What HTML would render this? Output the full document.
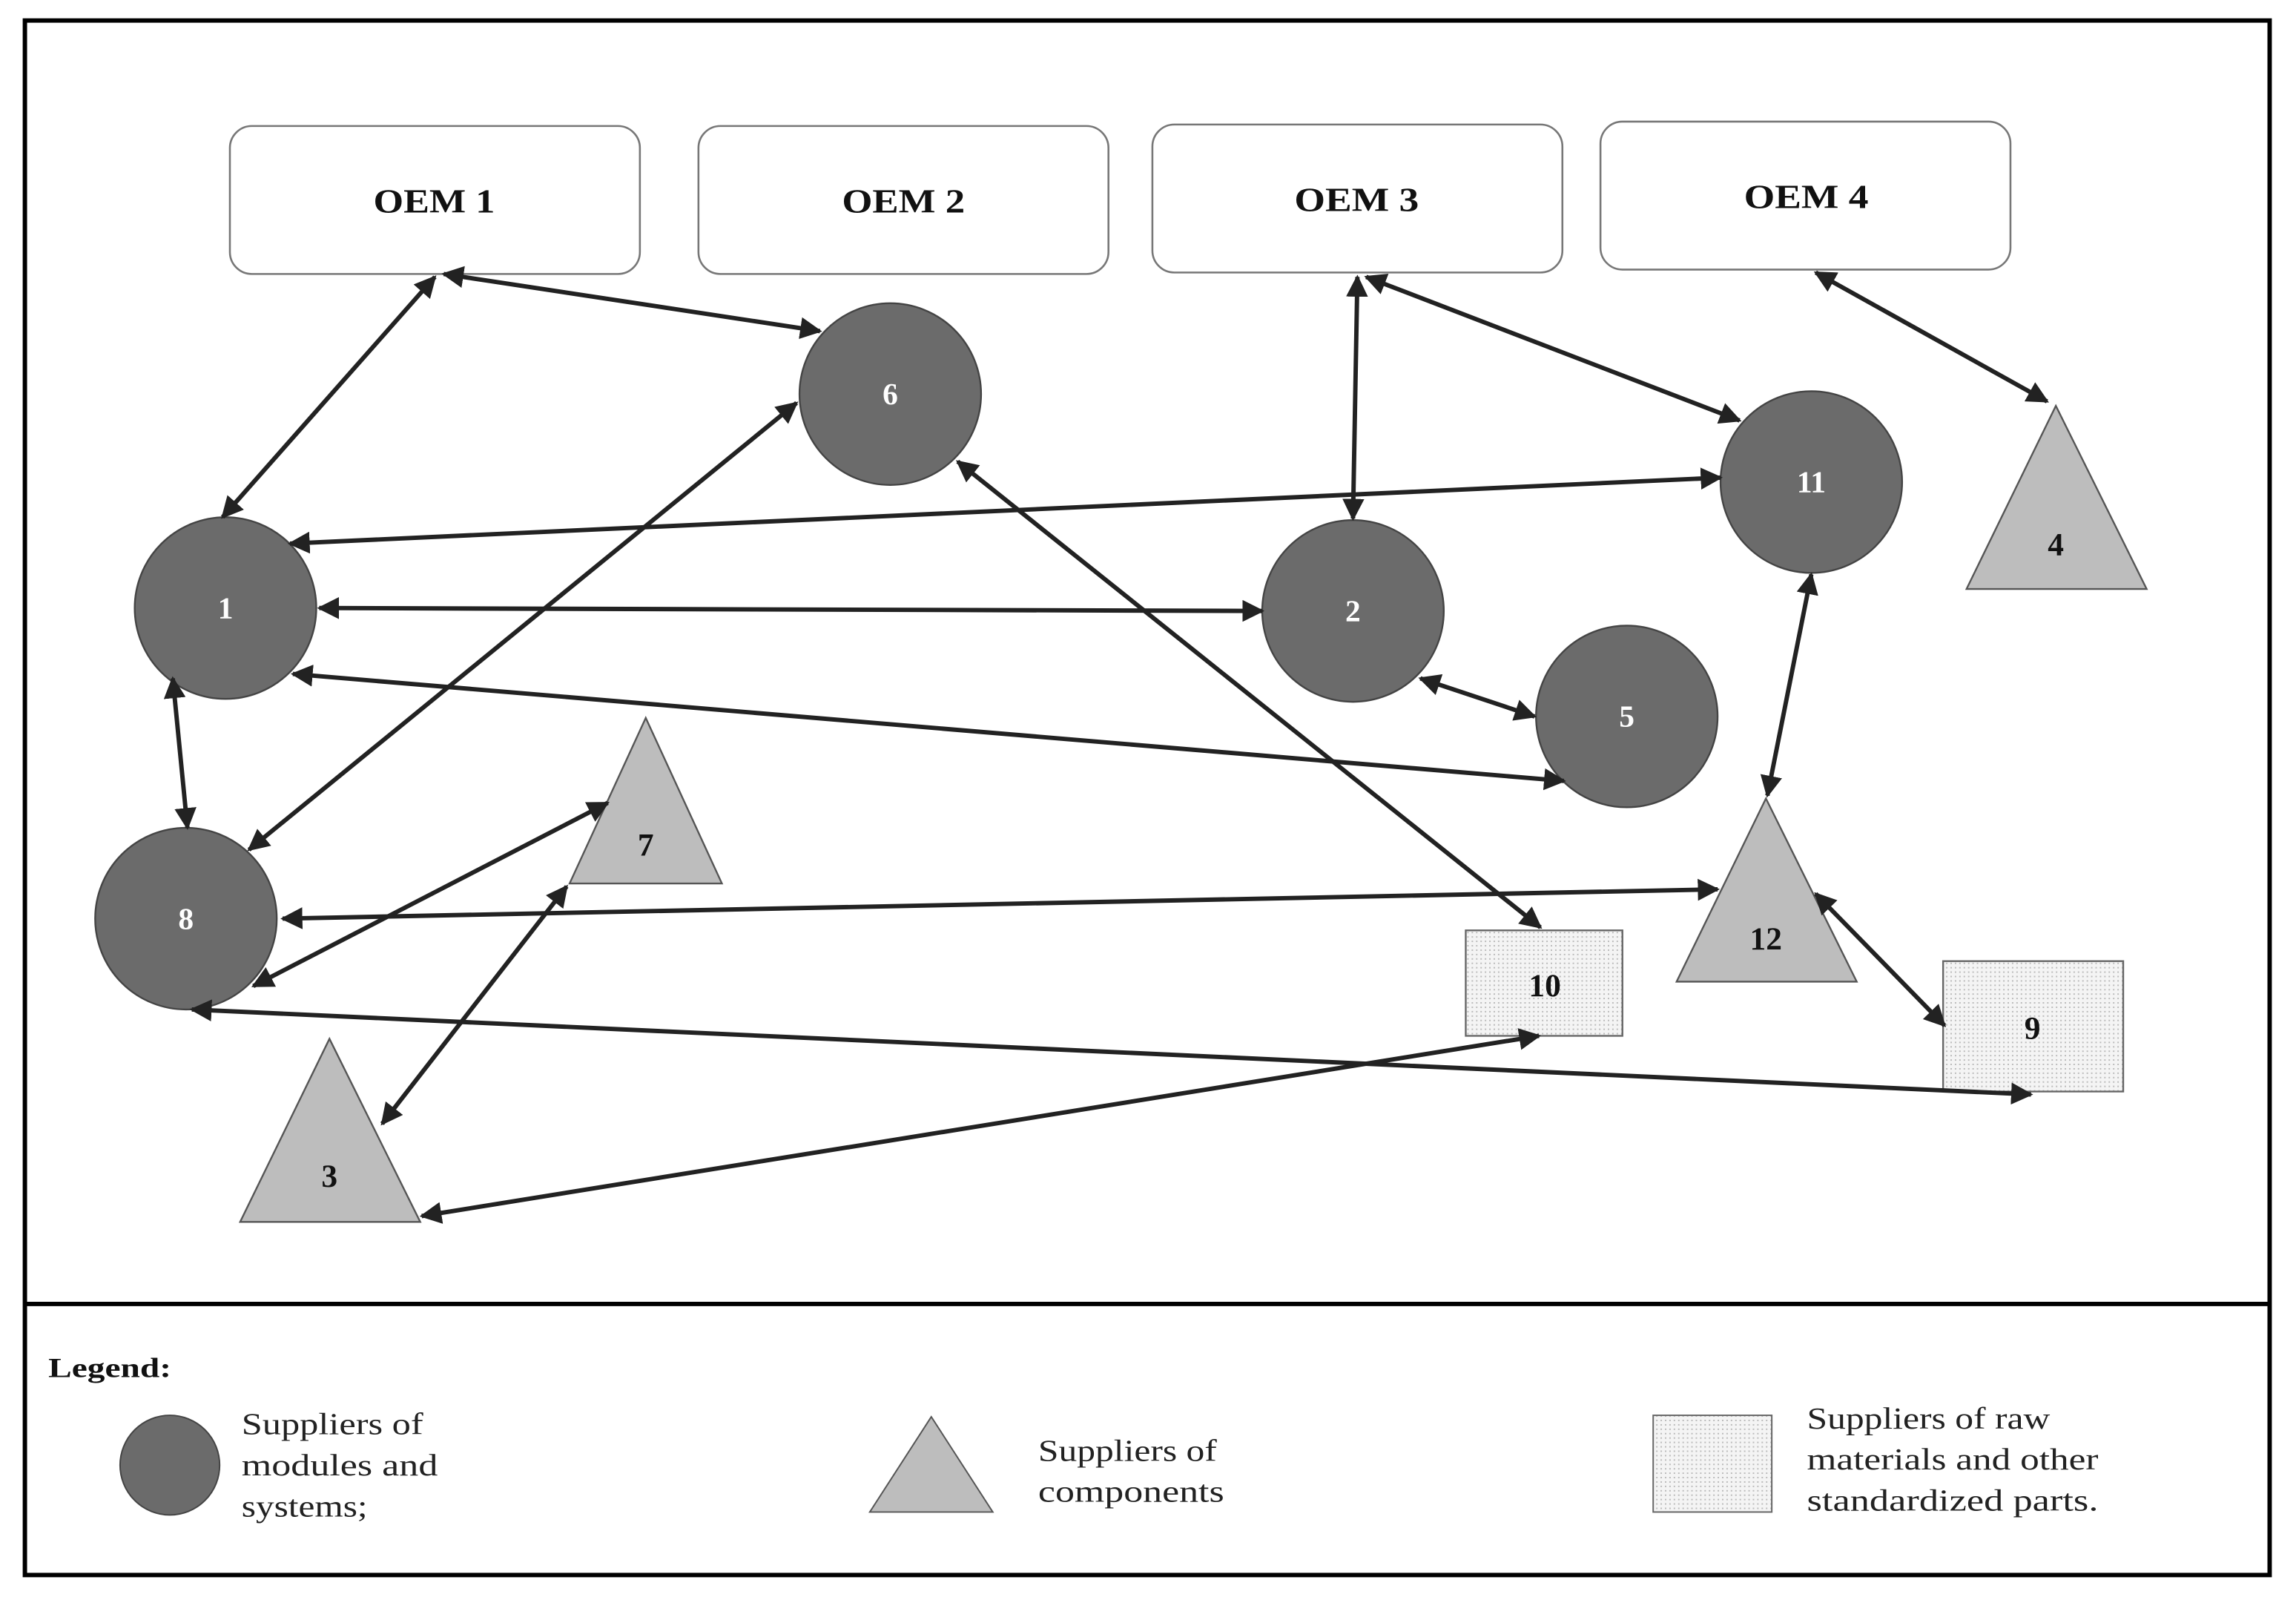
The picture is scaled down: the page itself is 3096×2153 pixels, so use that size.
<!DOCTYPE html>
<html><head><meta charset="utf-8"><style>
html,body{margin:0;padding:0;background:#fff;}
svg{display:block;}
text{font-family:"Liberation Serif",serif;}
</style></head><body>
<svg width="3096" height="2153" viewBox="0 0 1568 1090" preserveAspectRatio="none" xmlns="http://www.w3.org/2000/svg">
<defs>
<marker id="a" viewBox="0 0 10 10" refX="9" refY="5" markerWidth="5" markerHeight="5" orient="auto-start-reverse">
<path d="M0,0 L10,5 L0,10 z" fill="#222"/></marker>
<pattern id="dots" width="3" height="3" patternUnits="userSpaceOnUse"><rect width="3" height="3" fill="#f4f4f4"/><rect width="1" height="1" fill="#bbb"/></pattern>
</defs>
<rect x="17" y="14" width="1533" height="1061" fill="#fff" stroke="#000" stroke-width="3"/>
<line x1="17" y1="890" x2="1550" y2="890" stroke="#000" stroke-width="3"/>
<g fill="#fff" stroke="#777" stroke-width="1.3">
<rect x="157" y="86" width="280" height="101" rx="15"/>
<rect x="477" y="86" width="280" height="101" rx="15"/>
<rect x="787" y="85" width="280" height="101" rx="15"/>
<rect x="1093" y="83" width="280" height="101" rx="15"/>
</g>
<g font-size="23" font-weight="bold" fill="#111" lengthAdjust="spacingAndGlyphs">
<text x="255" y="145" textLength="83" lengthAdjust="spacingAndGlyphs">OEM 1</text>
<text x="575" y="145" textLength="84" lengthAdjust="spacingAndGlyphs">OEM 2</text>
<text x="884" y="144" textLength="85" lengthAdjust="spacingAndGlyphs">OEM 3</text>
<text x="1191" y="142" textLength="85" lengthAdjust="spacingAndGlyphs">OEM 4</text>
</g>
<g fill="#6b6b6b" stroke="#444" stroke-width="1.2">
<circle cx="608" cy="269" r="62"/><circle cx="154" cy="415" r="62"/>
<circle cx="924" cy="417" r="62"/><circle cx="1237" cy="329" r="62"/>
<circle cx="1111" cy="489" r="62"/><circle cx="127" cy="627" r="62"/>
</g>
<g fill="#bdbdbd" stroke="#555" stroke-width="1.2">
<polygon points="1404,277 1343,402 1466,402"/>
<polygon points="441,490 389,603 493,603"/>
<polygon points="1206,545 1145,670 1268,670"/>
<polygon points="225,709 164,834 287,834"/>
</g>
<g fill="url(#dots)" stroke="#666" stroke-width="1.2">
<rect x="1001" y="635" width="107" height="72"/>
<rect x="1327" y="656" width="123" height="89"/>
</g>
<g font-size="21" font-weight="bold" text-anchor="middle" fill="#fff">
<text x="608" y="276">6</text><text x="154" y="422">1</text><text x="924" y="424">2</text>
<text x="1237" y="336">11</text><text x="1111" y="496">5</text><text x="127" y="634">8</text>
</g>
<g font-size="22" font-weight="bold" text-anchor="middle" fill="#111">
<text x="1404" y="379">4</text><text x="441" y="584">7</text><text x="1206" y="648">12</text>
<text x="225" y="810">3</text><text x="1055" y="680">10</text><text x="1388" y="709">9</text>
</g>
<g stroke="#222" stroke-width="3" marker-start="url(#a)" marker-end="url(#a)">
<line x1="297" y1="189" x2="152" y2="353"/>
<line x1="303" y1="187" x2="560" y2="226"/>
<line x1="927" y1="189" x2="924" y2="354"/>
<line x1="933" y1="189" x2="1188" y2="287"/>
<line x1="1240" y1="186" x2="1398" y2="274"/>
<line x1="1175" y1="326" x2="198" y2="371"/>
<line x1="218" y1="415" x2="862" y2="417"/>
<line x1="970" y1="463" x2="1048" y2="489"/>
<line x1="200" y1="460" x2="1068" y2="533"/>
<line x1="118" y1="463" x2="128" y2="565"/>
<line x1="544" y1="275" x2="170" y2="580"/>
<line x1="654" y1="315" x2="1052" y2="633"/>
<line x1="1237" y1="392" x2="1207" y2="543"/>
<line x1="415" y1="548" x2="173" y2="673"/>
<line x1="193" y1="627" x2="1173" y2="607"/>
<line x1="387" y1="605" x2="261" y2="767"/>
<line x1="131" y1="689" x2="1387" y2="747"/>
<line x1="1240" y1="610" x2="1328" y2="700"/>
<line x1="288" y1="830" x2="1051" y2="707"/>
</g>
<text x="33" y="940" font-size="19" font-weight="bold" fill="#111" textLength="84" lengthAdjust="spacingAndGlyphs">Legend:</text>
<circle cx="116" cy="1000" r="34" fill="#6b6b6b" stroke="#444"/>
<polygon points="636,967 594,1032 678,1032" fill="#bdbdbd" stroke="#555"/>
<rect x="1129" y="966" width="81" height="66" fill="url(#dots)" stroke="#666"/>
<g font-size="21" fill="#222">
<text x="165" y="979" textLength="124" lengthAdjust="spacingAndGlyphs">Suppliers of</text>
<text x="165" y="1007" textLength="134" lengthAdjust="spacingAndGlyphs">modules and</text>
<text x="165" y="1035" textLength="86" lengthAdjust="spacingAndGlyphs">systems;</text>
<text x="709" y="997" textLength="122" lengthAdjust="spacingAndGlyphs">Suppliers of</text>
<text x="709" y="1025" textLength="127" lengthAdjust="spacingAndGlyphs">components</text>
<text x="1234" y="975" textLength="166" lengthAdjust="spacingAndGlyphs">Suppliers of raw</text>
<text x="1234" y="1003" textLength="199" lengthAdjust="spacingAndGlyphs">materials and other</text>
<text x="1234" y="1031" textLength="199" lengthAdjust="spacingAndGlyphs">standardized parts.</text>
</g>
</svg>
</body></html>
